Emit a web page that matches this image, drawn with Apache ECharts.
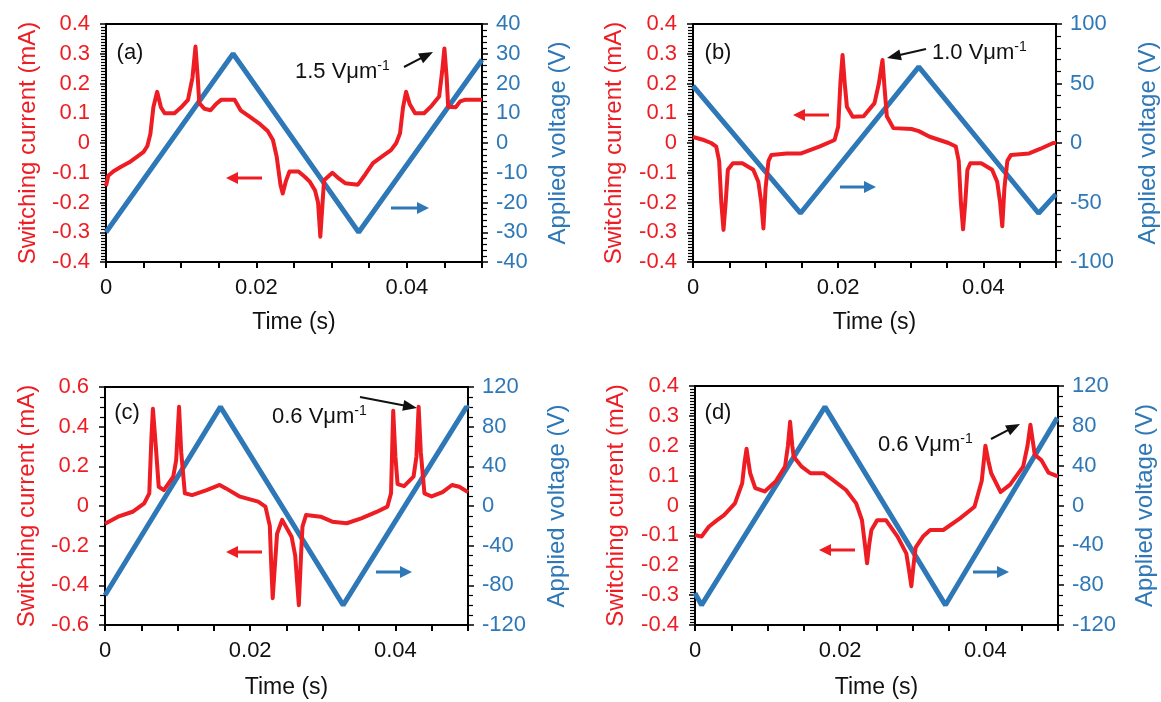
<!DOCTYPE html>
<html>
<head>
<meta charset="utf-8">
<script src="https://cdn.jsdelivr.net/npm/echarts@6/dist/echarts.min.js"></script>
<style>
  html, body { margin: 0; padding: 0; background: #fff; }
  #chart { width: 1161px; height: 702px; }
</style>
</head>
<body>
<div id="chart"></div>
<script>
// ---- measured traces (time in ms, current in mA, voltage in V) ----
const timeA = [0,0.3,1.0,2.0,3.1,4.2,5.0,5.5,5.9,6.3,6.8,7.3,7.8,9.1,10.0,10.9,11.5,11.9,12.2,12.4,13.1,13.9,14.6,15.3,17.1,17.9,19.0,20.3,21.5,22.2,22.7,23.2,23.5,23.9,24.4,25.6,26.5,27.1,27.8,28.2,28.5,28.8,29.0,30.1,31.0,31.8,33.5,34.5,35.5,37.0,37.9,38.6,39.1,39.5,39.9,40.4,41.1,42.3,43.3,44.3,44.7,45.0,45.3,45.5,46.5,47.1,47.7,49.8,50];
const currentA = [-0.145,-0.11,-0.095,-0.08,-0.065,-0.045,-0.03,-0.01,0.03,0.12,0.172,0.12,0.10,0.10,0.12,0.145,0.22,0.324,0.22,0.134,0.115,0.11,0.13,0.145,0.145,0.11,0.09,0.067,0.04,0.01,-0.046,-0.14,-0.17,-0.13,-0.096,-0.096,-0.115,-0.13,-0.16,-0.2,-0.315,-0.2,-0.125,-0.10,-0.12,-0.135,-0.14,-0.105,-0.068,-0.04,-0.024,0.0,0.033,0.12,0.172,0.13,0.10,0.10,0.125,0.156,0.24,0.318,0.22,0.122,0.12,0.14,0.145,0.145,0.145];
const vTimeA = [0,16.9,33.6,50];
const voltA = [-30,30,-30,28];

const timeB = [0,1.5,2.5,3.2,3.6,3.9,4.2,4.5,4.8,5.5,6.8,8.3,9.0,9.4,9.7,10.0,10.4,10.8,12.9,14.9,17.4,19.5,20.0,20.3,20.6,20.9,21.2,22.0,23.5,25.0,25.6,26.1,26.4,26.7,27.6,30.1,31.1,32.6,35.2,36.2,36.6,36.9,37.2,37.5,37.8,38.2,39.7,41.2,41.9,42.3,42.6,42.9,43.3,43.8,46.3,47.8,49.6,50];
const currentB = [0.02,0.01,0.0,-0.012,-0.06,-0.2,-0.292,-0.2,-0.09,-0.068,-0.068,-0.09,-0.13,-0.2,-0.287,-0.15,-0.06,-0.04,-0.035,-0.035,-0.012,0.01,0.055,0.2,0.296,0.2,0.122,0.088,0.09,0.134,0.2,0.279,0.18,0.09,0.05,0.047,0.04,0.021,0.0,-0.012,-0.06,-0.2,-0.29,-0.2,-0.09,-0.068,-0.068,-0.09,-0.13,-0.2,-0.28,-0.15,-0.06,-0.04,-0.035,-0.02,0.0,0.0];
const vTimeB = [0,14.8,31.1,47.6,50];
const voltB = [48,-59,64,-59,-43];

const timeC = [0,1.8,3.8,5.4,6.1,6.4,6.6,7.0,7.4,8.1,9.4,9.8,10.2,10.5,11.0,12.0,14.0,15.8,16.6,18.6,21.1,22.1,22.7,22.9,23.1,23.4,23.7,24.4,25.7,26.2,26.5,26.7,27.0,27.2,27.7,29.7,31.3,33.3,35.3,37.4,38.9,39.4,39.6,39.7,40.0,40.3,41.2,42.5,42.9,43.2,43.5,44.0,45.0,46.5,47.8,48.8,50];
const currentC = [-0.09,-0.054,-0.029,0.013,0.064,0.35,0.49,0.3,0.097,0.08,0.148,0.23,0.50,0.27,0.064,0.055,0.08,0.106,0.09,0.047,0.022,-0.003,-0.10,-0.3,-0.465,-0.3,-0.14,-0.07,-0.155,-0.25,-0.4,-0.50,-0.25,-0.104,-0.045,-0.054,-0.079,-0.087,-0.062,-0.03,-0.003,0.064,0.35,0.48,0.25,0.11,0.10,0.148,0.25,0.50,0.27,0.064,0.048,0.07,0.106,0.097,0.07];
const vTimeC = [0,15.9,32.8,49.8,50];
const voltC = [-90,100,-100,100,98];

const timeD = [0,0.9,1.9,3.0,4.0,5.5,6.5,6.8,7.1,7.4,7.6,8.3,9.6,11.1,12.4,12.8,13.1,13.4,13.6,14.7,15.9,17.7,18.7,20.8,22.2,23.0,23.4,23.7,24.0,24.3,25.1,26.3,27.9,29.1,29.5,29.8,30.1,30.4,31.4,32.4,34.2,36.5,38.5,39.5,40.0,40.4,40.8,42.1,43.4,45.2,45.8,46.2,46.5,46.8,47.7,48.7,49.7,50];
const currentD = [-0.099,-0.104,-0.071,-0.05,-0.032,0.007,0.074,0.14,0.19,0.14,0.108,0.058,0.047,0.08,0.13,0.2,0.28,0.2,0.163,0.13,0.108,0.108,0.091,0.052,0.007,-0.049,-0.13,-0.193,-0.13,-0.082,-0.049,-0.049,-0.104,-0.16,-0.22,-0.27,-0.2,-0.14,-0.104,-0.082,-0.082,-0.043,-0.004,0.083,0.2,0.15,0.108,0.045,0.07,0.13,0.2,0.27,0.22,0.17,0.152,0.11,0.1,0.1];
const vTimeD = [0,0.9,17.9,34.5,49.9];
const voltD = [-88,-100,99,-100,88];

// axis ranges: [min, max, interval, minor divisions]
const currentAxes = [[-0.4,0.4,0.1,10],[-0.4,0.4,0.1,10],[-0.6,0.6,0.2,4],[-0.4,0.4,0.1,10]];
const voltageAxes = [[-40,40,10,5],[-100,100,50,5],[-120,120,40,4],[-120,120,40,4]];
const xTickLabels = ['0','0.02','0.04'];

const panelLabels = ['(a)','(b)','(c)','(d)'];
const fieldLabels = ['1.5 Vμm','1.0 Vμm','0.6 Vμm','0.6 Vμm'];

const RED = '#ee1d23';
const BLUE = '#2e78b7';
const FONT = '"Liberation Sans", Arial, sans-serif';
const TICK_FS = 22;
const NAME_FS = 24;

const grids = [
  { left: 106, top: 24, width: 376, height: 238 },
  { left: 693, top: 24, width: 364, height: 238 },
  { left: 105, top: 387, width: 363, height: 238 },
  { left: 695, top: 386, width: 363, height: 239 }
];
const leftGap = [66, 67, 66, 67];
const rightGap = [64, 80, 77, 75];
const timeGap = [49, 49, 51, 51];

const toPairs = (t, v) => t.map((x, i) => [x / 1000, v[i]]);
const currents = [toPairs(timeA, currentA), toPairs(timeB, currentB), toPairs(timeC, currentC), toPairs(timeD, currentD)];
const voltages = [toPairs(vTimeA, voltA), toPairs(vTimeB, voltB), toPairs(vTimeC, voltC), toPairs(vTimeD, voltD)];

const xAxes = [], yAxes = [], series = [];
grids.forEach((g, i) => {
  g.show = true; g.borderColor = '#000'; g.borderWidth = 2; g.backgroundColor = 'transparent';
  xAxes.push({
    type: 'value', gridIndex: i, min: 0, max: 0.05, interval: 0.005,
    axisLine: { show: true, onZero: false, lineStyle: { color: '#000', width: 2 } },
    axisTick: { show: true, inside: false, length: 6, lineStyle: { color: '#000', width: 2 } },
    splitLine: { show: false },
    axisLabel: {
      color: '#111', fontSize: TICK_FS, fontFamily: FONT, margin: 15,
      formatter: v => { const k = Math.round(v * 1000); return k % 20 === 0 ? xTickLabels[k / 20] : ''; }
    },
    name: 'Time (s)', nameLocation: 'middle', nameGap: timeGap[i],
    nameTextStyle: { color: '#111', fontSize: 23, fontFamily: FONT }
  });
  const c = currentAxes[i], v = voltageAxes[i];
  yAxes.push({
    type: 'value', gridIndex: i, position: 'left', min: c[0], max: c[1], interval: c[2],
    axisLine: { show: true, lineStyle: { color: '#000', width: 2 } },
    axisTick: { show: true, inside: false, length: 6, lineStyle: { color: '#000', width: 1.5 } },
    minorTick: { show: true, splitNumber: c[3], length: 5, lineStyle: { color: '#000', width: 1.2 } },
    splitLine: { show: false },
    axisLabel: { color: RED, fontSize: TICK_FS, fontFamily: FONT, margin: 16 },
    name: 'Switching current (mA)', nameLocation: 'middle', nameGap: leftGap[i],
    nameTextStyle: { color: RED, fontSize: NAME_FS, fontFamily: FONT }
  });
  yAxes.push({
    type: 'value', gridIndex: i, position: 'right', min: v[0], max: v[1], interval: v[2],
    axisLine: { show: true, lineStyle: { color: '#000', width: 2 } },
    axisTick: { show: true, inside: false, length: 6, lineStyle: { color: '#000', width: 1.5 } },
    minorTick: { show: true, splitNumber: v[3], length: 5, lineStyle: { color: '#000', width: 1.2 } },
    splitLine: { show: false },
    axisLabel: { color: BLUE, fontSize: TICK_FS, fontFamily: FONT, margin: 14 },
    name: 'Applied voltage (V)', nameLocation: 'middle', nameGap: rightGap[i],
    nameTextStyle: { color: BLUE, fontSize: NAME_FS, fontFamily: FONT }
  });
  series.push({
    type: 'line', xAxisIndex: i, yAxisIndex: 2 * i + 1, data: voltages[i],
    showSymbol: false, lineStyle: { color: BLUE, width: 5 }, z: 2, animation: false
  });
  series.push({
    type: 'line', xAxisIndex: i, yAxisIndex: 2 * i, data: currents[i],
    showSymbol: false, lineStyle: { color: RED, width: 4, join: 'round' }, z: 3, animation: false
  });
});

// arrow helper for annotations (pixel space)
function arrow(x1, y1, x2, y2, color, lw, hl, hw) {
  const dx = x2 - x1, dy = y2 - y1, L = Math.hypot(dx, dy);
  const ux = dx / L, uy = dy / L;
  const bx = x2 - ux * hl, by = y2 - uy * hl;
  const px = -uy * hw / 2, py = ux * hw / 2;
  return [
    { type: 'line', z: 10, shape: { x1, y1, x2: bx + ux, y2: by + uy }, style: { stroke: color, lineWidth: lw } },
    { type: 'polygon', z: 10, shape: { points: [[x2, y2], [bx + px, by + py], [bx - px, by - py]] }, style: { fill: color } }
  ];
}

const labelPos = [[130, 53], [718, 53], [127, 413], [718, 413]];
const fieldPos = [[295, 72], [932, 53], [272, 417], [878, 445]];
const blackArrows = [[404, 67, 433, 52], [926, 49, 887, 58], [360, 397, 417, 408], [991, 439, 1020, 424]];
const redArrows = [[262, 178, 226, 178], [829, 115, 793, 115], [262, 552, 226, 552], [855, 550, 819, 550]];
const blueArrows = [[391, 208, 429, 208], [840, 187, 876, 187], [376, 572, 412, 572], [973, 572, 1009, 572]];

let graphic = [];
for (let i = 0; i < 4; i++) {
  graphic.push({
    type: 'text', z: 10, x: labelPos[i][0], y: labelPos[i][1],
    style: { text: panelLabels[i], fill: '#111', font: '22px ' + FONT, textAlign: 'center', textVerticalAlign: 'middle' }
  });
  graphic.push({
    type: 'text', z: 10, x: fieldPos[i][0], y: fieldPos[i][1],
    style: {
      text: '{n|' + fieldLabels[i] + '}{s|-1}', textAlign: 'left', textVerticalAlign: 'middle',
      rich: {
        n: { fontSize: 22, fontFamily: FONT, fill: '#111', color: '#111', lineHeight: 26 },
        s: { fontSize: 14, fontFamily: FONT, fill: '#111', color: '#111', verticalAlign: 'top', lineHeight: 26, padding: [0, 0, 11, 0] }
      }
    }
  });
  graphic = graphic.concat(arrow(...blackArrows[i], '#111', 2, 14, 11));
  graphic = graphic.concat(arrow(...redArrows[i], RED, 3, 12, 12));
  graphic = graphic.concat(arrow(...blueArrows[i], BLUE, 3, 12, 12));
}

const chart = echarts.init(document.getElementById('chart'), null, { renderer: 'canvas' });
chart.setOption({
  animation: false,
  backgroundColor: '#fff',
  textStyle: { fontFamily: FONT },
  grid: grids,
  xAxis: xAxes,
  yAxis: yAxes,
  series: series,
  graphic: graphic
});
</script>
</body>
</html>
